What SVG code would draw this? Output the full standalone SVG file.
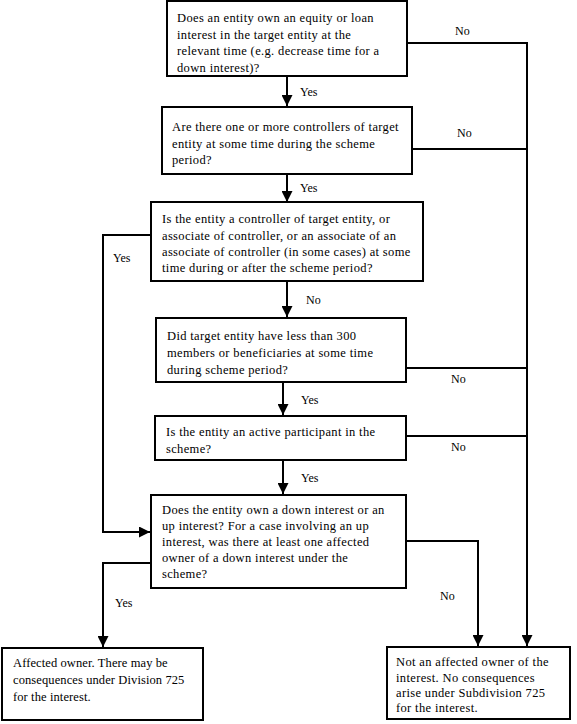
<svg xmlns="http://www.w3.org/2000/svg" width="577" height="724" viewBox="0 0 577 724">
<style>
  .box { fill: #fff; stroke: #000; stroke-width: 2; }
  .ln { fill: none; stroke: #000; stroke-width: 2; }
  text { font-family: "Liberation Serif", "Times New Roman", serif; font-size: 12px; fill: #000; }
  .t { font-size: 12.5px; letter-spacing: 0.35px; }
  .s { font-size: 12.5px; letter-spacing: 0.1px; }
</style>
<defs>
  <marker id="ah" viewBox="0 0 10 10" refX="10" refY="5" markerWidth="11" markerHeight="11" markerUnits="userSpaceOnUse" orient="auto">
    <path d="M0,0 L10,5 L0,10 z" fill="#000"/>
  </marker>
</defs>
<rect width="577" height="724" fill="#fff"/>
<g id="connectors">
  <path class="ln" d="M407,43 H527 V646" marker-end="url(#ah)"/>
  <path class="ln" d="M412,149 H527"/>
  <path class="ln" d="M406,368 H527"/>
  <path class="ln" d="M406,436 H527"/>
  <path class="ln" d="M287,76 V106" marker-end="url(#ah)"/>
  <path class="ln" d="M287,174 V202" marker-end="url(#ah)"/>
  <path class="ln" d="M287,281 V317" marker-end="url(#ah)"/>
  <path class="ln" d="M283,382 V415" marker-end="url(#ah)"/>
  <path class="ln" d="M283,460 V494" marker-end="url(#ah)"/>
  <path class="ln" d="M151,235 H103 V532 H150" marker-end="url(#ah)"/>
  <path class="ln" d="M151,563 H103 V647" marker-end="url(#ah)"/>
  <path class="ln" d="M406,541 H478 V646" marker-end="url(#ah)"/>
  <text x="455" y="35">No</text>
  <text x="300" y="96">Yes</text>
  <text x="457" y="137">No</text>
  <text x="300" y="192">Yes</text>
  <text x="113" y="262">Yes</text>
  <text x="306" y="304">No</text>
  <text x="451" y="383">No</text>
  <text x="301" y="404">Yes</text>
  <text x="451" y="451">No</text>
  <text x="301" y="482">Yes</text>
  <text x="440" y="600">No</text>
  <text x="115" y="607">Yes</text>
</g>
<g id="q1" class="t">
  <rect class="box" x="167" y="1" width="240" height="75"/>
  <text class="t" x="177" y="22">Does an entity own an equity or loan</text>
  <text class="t" x="177" y="38.5">interest in the target entity at the</text>
  <text class="t" x="177" y="55">relevant time (e.g. decrease time for a</text>
  <text class="t" x="177" y="71.5">down interest)?</text>
</g>
<g id="q2">
  <rect class="box" x="162" y="107" width="250" height="67"/>
  <text class="t" x="172" y="131">Are there one or more controllers of target</text>
  <text class="t" x="172" y="148">entity at some time during the scheme</text>
  <text class="t" x="172" y="164">period?</text>
</g>
<g id="q3">
  <rect class="box" x="151" y="202" width="272" height="79"/>
  <text class="t" x="162" y="223">Is the entity a controller of target entity, or</text>
  <text class="t" x="162" y="240">associate of controller, or an associate of an</text>
  <text class="t" x="162" y="256">associate of controller (in some cases) at some</text>
  <text class="t" x="162" y="272">time during or after the scheme period?</text>
</g>
<g id="q4">
  <rect class="box" x="156" y="318" width="250" height="64"/>
  <text class="t" x="167" y="340">Did target entity have less than 300</text>
  <text class="t" x="167" y="357">members or beneficiaries at some time</text>
  <text class="t" x="167" y="374">during scheme period?</text>
</g>
<g id="q5">
  <rect class="box" x="155" y="416" width="251" height="44"/>
  <text class="t" x="166" y="436">Is the entity an active participant in the</text>
  <text class="t" x="166" y="453">scheme?</text>
</g>
<g id="q6">
  <rect class="box" x="151" y="495" width="255" height="93"/>
  <text class="t" x="162" y="514">Does the entity own a down interest or an</text>
  <text class="t" x="162" y="530">up interest? For a case involving an up</text>
  <text class="t" x="162" y="546">interest, was there at least one affected</text>
  <text class="t" x="162" y="562">owner of a down interest under the</text>
  <text class="t" x="162" y="578">scheme?</text>
</g>
<g id="affected">
  <rect class="box" x="2" y="648" width="201" height="72"/>
  <text class="s" x="13" y="667">Affected owner. There may be</text>
  <text class="s" x="13" y="684">consequences under Division 725</text>
  <text class="s" x="13" y="701">for the interest.</text>
</g>
<g id="not-affected">
  <rect class="box" x="387" y="647" width="183" height="72"/>
  <text class="t" x="396" y="666">Not an affected owner of the</text>
  <text class="t" x="396" y="682">interest. No consequences</text>
  <text class="t" x="396" y="697">arise under Subdivision 725</text>
  <text class="t" x="396" y="712">for the interest.</text>
</g>
</svg>
